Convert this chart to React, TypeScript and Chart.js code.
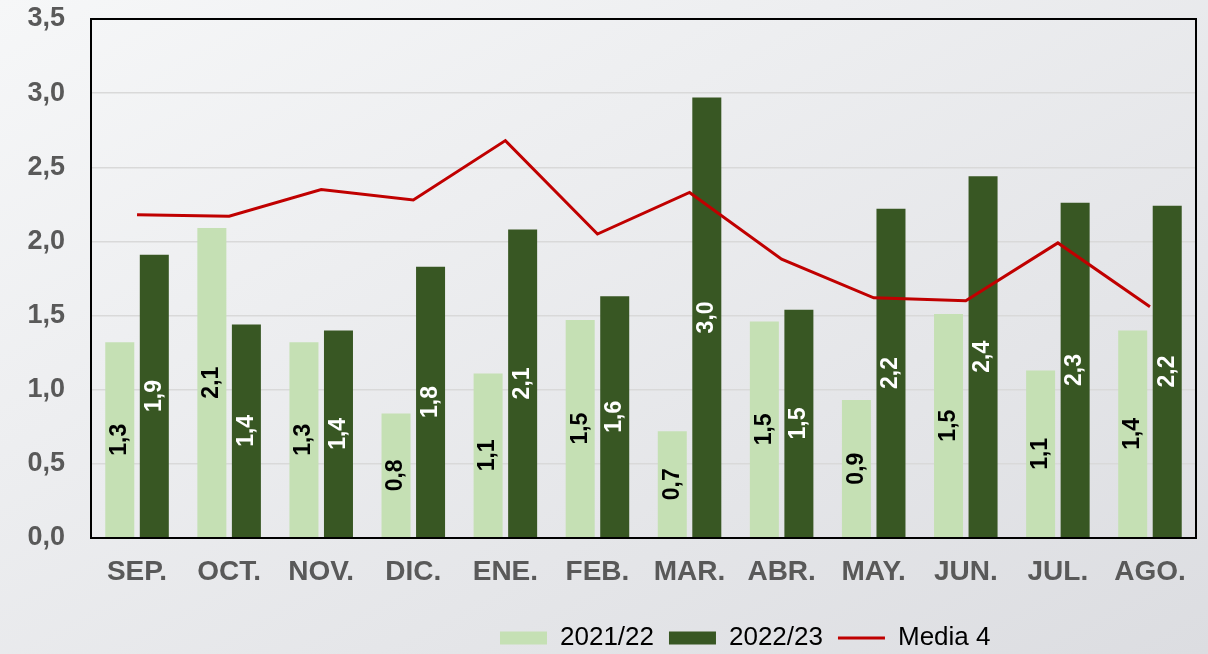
import React, { useEffect, useRef } from 'react';
import { Chart, registerables } from 'chart.js';

Chart.register(...registerables);

const months = ['SEP.', 'OCT.', 'NOV.', 'DIC.', 'ENE.', 'FEB.', 'MAR.', 'ABR.', 'MAY.', 'JUN.', 'JUL.', 'AGO.'];
const season2122 = [1.32, 2.09, 1.32, 0.84, 1.11, 1.47, 0.72, 1.46, 0.93, 1.51, 1.13, 1.4];
const season2223 = [1.91, 1.44, 1.4, 1.83, 2.08, 1.63, 2.97, 1.54, 2.22, 2.44, 2.26, 2.24];
const media4 = [2.18, 2.17, 2.35, 2.28, 2.68, 2.05, 2.33, 1.88, 1.62, 1.6, 1.99, 1.56];
const seriesNames = ['2021/22', '2022/23', 'Media 4'];

const Y_MIN = 0;
const Y_MAX = 3.5;
const Y_STEP = 0.5;

const FONT = '"Liberation Sans", Arial, sans-serif';
const LIGHT = '#c5e0b4';
const DARK = '#385723';
const RED = '#c00000';
const LABEL_COLORS = ['#000000', '#ffffff'];

const fmt = (v: number) => v.toFixed(1).replace('.', ',');

const framePlugin = {
  id: 'frame',
  afterDatasetsDraw(chart: any) {
    const { ctx, chartArea } = chart;
    ctx.save();
    ctx.strokeStyle = '#000000';
    ctx.lineWidth = 2;
    ctx.strokeRect(chartArea.left, chartArea.top, chartArea.right - chartArea.left, chartArea.bottom - chartArea.top);
    ctx.restore();
  },
};

const barLabelPlugin = {
  id: 'barLabels',
  afterDatasetsDraw(chart: any) {
    const ctx = chart.ctx;
    chart.data.datasets.forEach((ds: any, di: number) => {
      if (ds.type === 'line') return;
      const meta = chart.getDatasetMeta(di);
      meta.data.forEach((el: any, i: number) => {
        const v = ds.data[i] as number;
        const { x, y, base } = el.getProps(['x', 'y', 'base'], true);
        ctx.save();
        ctx.translate(x, (y + base) / 2);
        ctx.rotate(-Math.PI / 2);
        ctx.font = `bold 23px ${FONT}`;
        ctx.fillStyle = LABEL_COLORS[di];
        ctx.textAlign = 'center';
        ctx.textBaseline = 'middle';
        ctx.fillText(fmt(v), 0, 0);
        ctx.restore();
      });
    });
  },
};

const LEGEND_PAD = 15;
const legendShiftPlugin = {
  id: 'legendShift',
  afterLayout(chart: any) {
    const lg = chart.legend;
    if (!lg) return;
    const dx = 500 - (lg.left + LEGEND_PAD);
    const dy = 610 - lg.top;
    lg.left += dx;
    lg.right += dx;
    lg.top += dy;
    lg.bottom += dy;
  },
};

export default function App() {
  const canvasRef = useRef<HTMLCanvasElement | null>(null);

  useEffect(() => {
    document.body.style.margin = '0';
    const canvas = canvasRef.current;
    if (!canvas) return;
    const chart = new Chart(canvas, {
      type: 'bar',
      data: {
        labels: months,
        datasets: [
          {
            type: 'bar',
            label: seriesNames[0],
            data: season2122,
            backgroundColor: LIGHT,
            borderWidth: 0,
            categoryPercentage: 0.75,
            barPercentage: 0.84,
            order: 1,
          },
          {
            type: 'bar',
            label: seriesNames[1],
            data: season2223,
            backgroundColor: DARK,
            borderWidth: 0,
            categoryPercentage: 0.75,
            barPercentage: 0.84,
            order: 1,
          },
          {
            type: 'line',
            label: seriesNames[2],
            data: media4,
            borderColor: RED,
            backgroundColor: RED,
            borderWidth: 3,
            pointRadius: 0,
            tension: 0,
            fill: false,
            order: 0,
          },
        ],
      } as any,
      options: {
        animation: false,
        responsive: true,
        maintainAspectRatio: false,
        layout: { padding: { left: 0, right: 12, top: 19, bottom: 0 } },
        plugins: {
          tooltip: { enabled: false },
          legend: {
            display: true,
            position: 'bottom',
            align: 'start',
            labels: {
              usePointStyle: true,
              pointStyleWidth: 47,
              boxHeight: 13,
              padding: LEGEND_PAD,
              color: '#000000',
              font: { family: FONT, size: 26 },
              sort: (a: any, b: any) => a.datasetIndex - b.datasetIndex,
              generateLabels: (chart: any) => {
                const items = (Chart.defaults.plugins.legend.labels as any).generateLabels(chart);
                return items.map((it: any) => {
                  const ds = chart.data.datasets[it.datasetIndex];
                  if (ds.type === 'line') {
                    return { ...it, pointStyle: 'line', strokeStyle: RED, fillStyle: RED, lineWidth: 3 };
                  }
                  return { ...it, pointStyle: 'rect', fillStyle: ds.backgroundColor, strokeStyle: ds.backgroundColor, lineWidth: 0 };
                });
              },
            },
          },
        },
        scales: {
          x: {
            grid: { display: false, drawTicks: false },
            border: { display: false },
            ticks: {
              color: '#595959',
              font: { family: FONT, size: 28, weight: 'bold' },
              padding: 17,
              maxRotation: 0,
              autoSkip: false,
            },
            afterFit: (scale: any) => {
              scale.height = 65;
              scale.paddingLeft = 0;
              scale.paddingRight = 0;
            },
          },
          y: {
            min: Y_MIN,
            max: Y_MAX,
            grid: { color: '#d9d9d9', lineWidth: 1.5, drawTicks: false },
            border: { display: false },
            ticks: {
              stepSize: Y_STEP,
              color: '#595959',
              font: { family: FONT, size: 27, weight: 'bold' },
              padding: 26,
              callback: (v: any) => fmt(Number(v)),
            },
            afterFit: (scale: any) => {
              scale.width = 91;
              scale.paddingTop = 0;
              scale.paddingBottom = 0;
            },
          },
        },
      } as any,
      plugins: [framePlugin, barLabelPlugin, legendShiftPlugin],
    });
    return () => chart.destroy();
  }, []);

  return (
    <div
      style={{
        position: 'relative',
        width: 1208,
        height: 654,
        background: 'linear-gradient(to bottom right, #f6f7f8, #dcdde1)',
      }}
    >
      <canvas ref={canvasRef} />
    </div>
  );
}
